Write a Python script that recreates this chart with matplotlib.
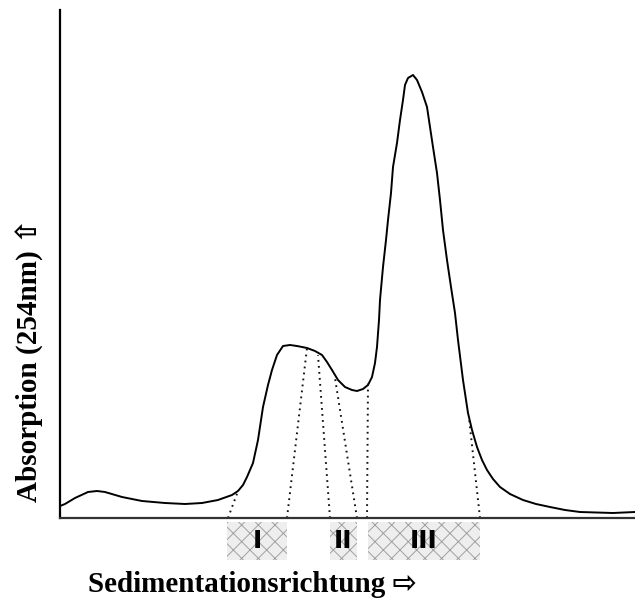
import matplotlib.pyplot as plt
from matplotlib.patches import Rectangle

# sedimentation profile (position along gradient, absorbance), arbitrary units
curve_x = [0, 5, 15, 28, 37, 45, 62, 82, 105, 125, 142, 158, 172, 178, 183, 187,
           193, 198, 203, 208, 212, 217, 223, 230, 237, 247, 255, 262, 267, 272,
           278, 285, 292, 297, 303, 308, 312, 315, 317, 319, 320, 323, 326, 328,
           331, 333, 337, 340, 343, 345, 348, 353, 357, 362, 367, 370, 373, 377,
           380, 383, 387, 391, 395, 398, 403, 408, 412, 417, 422, 427, 433, 440,
           450, 463, 476, 490, 505, 520, 553, 575]
curve_y = [12, 14, 20, 26, 27, 26, 21, 17, 15, 14, 15, 18, 23, 27, 33, 41,
           55, 78, 111, 133, 148, 163, 172, 173, 172, 170, 167, 163, 156, 148,
           138, 131, 128, 127, 129, 133, 141, 155, 171, 198, 218, 251, 278, 298,
           325, 351, 375, 398, 418, 433, 440, 443, 438, 426, 411, 391, 371, 345,
           318, 288, 258, 231, 205, 178, 138, 105, 88, 71, 58, 48, 39, 31,
           24, 18, 14, 11, 8, 6, 5, 6]

# dotted guide lines: (x at baseline, x on curve, y on curve)
guide_x0 = [168, 227, 270, 297, 307, 420]
guide_x1 = [178, 247, 258, 275, 308, 409]
guide_y1 = [27, 170, 163, 140, 135, 100]

# fractions below the axis
frac_labels = ["I", "II", "III"]
frac_start = [167, 270, 308]
frac_end = [227, 297, 420]

fig = plt.figure(figsize=(6.35, 6.06), dpi=100)
ax = fig.add_axes([60 / 635, 88 / 606, 575 / 635, 508 / 606])

ax.plot(curve_x, curve_y, color="black", lw=1.4,
        solid_joinstyle="round", solid_capstyle="round")

for x0, x1, y1 in zip(guide_x0, guide_x1, guide_y1):
    ax.plot([x0, x1], [0, y1], color="#111111", lw=1.4,
            linestyle=(0, (0.9, 2.2)), clip_on=False)

plt.rcParams["hatch.linewidth"] = 0.7
for lab, s, e in zip(frac_labels, frac_start, frac_end):
    box = Rectangle((s, -42), e - s, 38, facecolor="#eeeeee",
                    edgecolor="#a0a0a0", hatch="xx", lw=0, clip_on=False)
    ax.add_patch(box)
    ax.text((s + e) / 2, -23, lab, ha="center", va="center", fontsize=18,
            fontweight="heavy", family="DejaVu Sans", clip_on=False)

ax.set_xlim(0, 575)
ax.set_ylim(0, 508)
ax.set_xticks([])
ax.set_yticks([])
ax.spines["top"].set_visible(False)
ax.spines["right"].set_visible(False)
ax.spines["left"].set_linewidth(1.6)
ax.spines["bottom"].set_linewidth(1.6)
ax.spines["bottom"].set_color("#333333")

fonts = ["Liberation Serif", "DejaVu Sans"]
fig.text(252 / 635, 1 - 584 / 606, "Sedimentationsrichtung \u21e8",
         ha="center", va="center", fontsize=21, fontweight="bold", family=fonts)
fig.text(30 / 635, 1 - 360 / 606, "Absorption (254nm) \u21e7",
         ha="center", va="center", rotation=90, fontsize=21,
         fontweight="bold", family=fonts)

fig.savefig("out.png", dpi=100)
